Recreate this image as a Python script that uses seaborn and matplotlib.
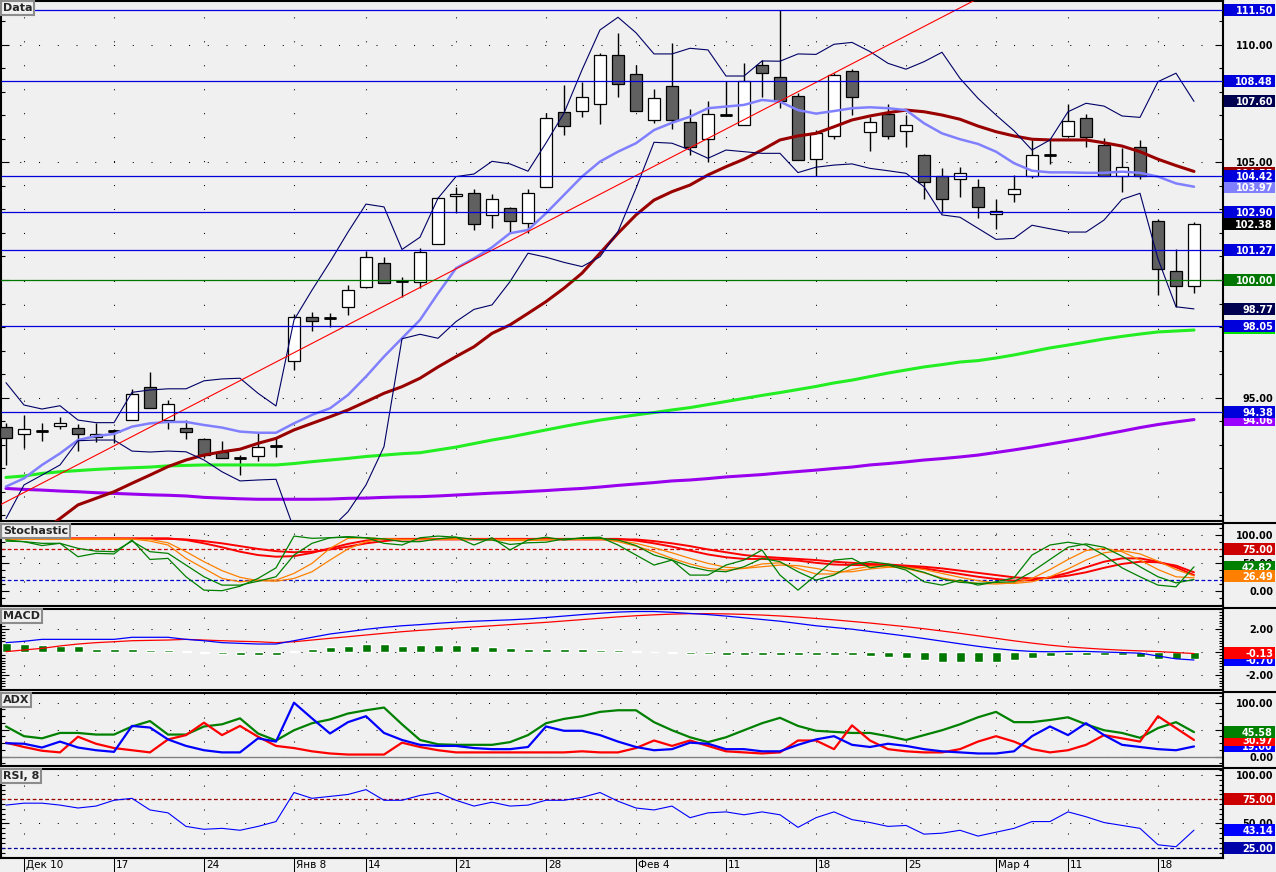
import matplotlib
matplotlib.use("Agg")
import matplotlib.pyplot as plt
from matplotlib.patches import Rectangle
from matplotlib.lines import Line2D
from matplotlib.transforms import IdentityTransform
import numpy as np
import seaborn as sns

# ---- values (bar index 0 .. 66) ----
tick_bars = [1, 6, 11, 16, 20, 25, 30, 35, 40, 45, 50, 55, 59, 64]
tick_labels = ["Дек 10", "17", "24", "Янв 8", "14", "21", "28",
               "Фев 4", "11", "18", "25", "Мар 4", "11", "18"]

opens = [93.76, 93.43, 93.59, 93.80, 93.69, 93.31, 93.59, 94.03, 95.43, 94.03,
         93.69, 93.22, 92.69, 92.44, 92.50, 92.95, 96.54, 98.41, 98.40, 98.85,
         99.71, 100.71, 99.97, 99.90, 101.52, 103.56, 103.69, 102.75, 103.05, 102.41,
         103.94, 107.16, 107.18, 107.48, 109.56, 108.75, 106.80, 108.24, 106.71, 105.99,
         107.00, 106.58, 109.14, 108.63, 107.82, 105.14, 106.11, 108.88, 106.29, 107.06,
         106.33, 105.31, 104.41, 104.29, 103.97, 102.80, 103.65, 104.43, 105.32, 106.11,
         106.88, 105.73, 104.41, 105.65, 102.50, 100.40, 99.74]
highs = [93.91, 94.26, 93.90, 94.16, 93.86, 93.93, 93.65, 95.36, 96.09, 94.89,
         94.04, 93.26, 93.15, 92.55, 93.55, 93.33, 98.55, 98.65, 98.58, 99.77,
         101.25, 100.99, 100.14, 101.35, 103.55, 103.97, 103.87, 103.66, 103.12, 103.87,
         107.09, 108.30, 108.44, 109.65, 110.50, 109.15, 108.11, 110.10, 107.28, 107.63,
         108.47, 109.25, 109.36, 111.48, 107.95, 106.38, 108.80, 108.97, 106.95, 107.48,
         107.02, 105.36, 104.75, 104.82, 104.29, 103.43, 104.47, 105.96, 105.96, 107.48,
         107.05, 106.03, 105.60, 105.96, 102.58, 101.33, 102.46]
lows = [92.13, 92.84, 93.16, 93.67, 92.74, 93.12, 93.05, 94.03, 94.54, 93.67,
        93.25, 92.41, 92.41, 91.69, 92.31, 92.48, 96.17, 97.84, 98.01, 98.51,
        99.65, 99.86, 99.29, 99.65, 101.52, 102.84, 102.13, 102.23, 101.99, 101.99,
        103.94, 106.18, 106.95, 106.64, 107.80, 107.18, 106.69, 106.41, 105.32, 105.01,
        106.98, 106.58, 107.80, 107.31, 105.09, 104.43, 105.99, 107.02, 105.50, 105.99,
        105.65, 103.46, 102.84, 103.55, 102.65, 102.18, 103.33, 104.33, 104.95, 106.11,
        105.65, 104.41, 103.76, 104.31, 99.35, 98.86, 99.46]
closes = [93.26, 93.65, 93.59, 93.90, 93.43, 93.46, 93.59, 95.14, 94.57, 94.71,
          93.55, 92.54, 92.41, 92.44, 92.88, 92.95, 98.41, 98.24, 98.40, 99.56,
          100.99, 99.86, 99.97, 101.18, 103.48, 103.66, 102.37, 103.43, 102.51, 103.69,
          106.88, 106.54, 107.77, 109.56, 108.33, 107.18, 107.73, 106.80, 105.65, 107.05,
          107.00, 108.47, 108.80, 107.60, 105.09, 106.24, 108.71, 107.80, 106.71, 106.11,
          106.58, 104.16, 103.43, 104.57, 103.09, 102.92, 103.89, 105.31, 105.32, 106.75,
          106.07, 104.41, 104.80, 104.41, 100.46, 99.74, 102.37]

bb_upper = [95.63, 94.68, 94.51, 94.65, 94.04, 93.93, 93.93, 95.22, 95.32, 95.37,
            95.37, 95.71, 95.79, 95.82, 95.18, 94.64, 98.30, 99.57, 100.77, 102.04,
            103.23, 103.11, 101.30, 101.82, 103.48, 104.40, 104.51, 105.05, 104.94, 104.63,
            105.83, 107.10, 108.94, 110.64, 111.18, 110.52, 109.62, 109.62, 109.86, 109.79,
            108.68, 108.68, 109.32, 109.31, 109.62, 109.60, 110.03, 110.11, 109.72, 109.22,
            108.97, 109.29, 109.69, 108.58, 107.73, 107.02, 106.35, 105.53, 105.96, 107.16,
            107.52, 107.40, 106.98, 106.92, 108.44, 108.80, 107.60]
bb_lower = [89.85, 91.28, 91.70, 92.13, 93.16, 93.19, 93.19, 92.72, 92.68, 92.72,
            92.69, 92.34, 91.84, 91.45, 91.49, 91.52, 89.40, 88.30, 89.40, 90.14,
            91.28, 92.91, 97.50, 97.69, 97.52, 98.23, 98.75, 98.94, 99.93, 101.14,
            100.97, 100.75, 100.57, 100.99, 102.06, 103.90, 105.86, 105.82, 105.53, 105.18,
            105.53, 105.46, 105.39, 105.39, 104.57, 104.80, 104.89, 104.94, 104.75, 104.65,
            104.54, 103.97, 102.77, 102.67, 102.20, 101.73, 101.77, 102.33, 102.18, 102.04,
            102.04, 102.55, 103.43, 103.69, 100.90, 98.86, 98.77]
ma_fast = [91.21, 91.56, 92.13, 92.62, 93.19, 93.36, 93.45, 93.76, 93.90, 93.96,
           93.96, 93.83, 93.72, 93.55, 93.50, 93.50, 93.90, 94.26, 94.54, 95.11,
           95.89, 96.74, 97.52, 98.30, 99.43, 100.50, 100.92, 101.39, 101.99, 102.13,
           102.84, 103.62, 104.40, 105.04, 105.46, 105.82, 106.38, 106.69, 106.95, 107.31,
           107.38, 107.45, 107.66, 107.59, 107.23, 107.08, 107.19, 107.31, 107.35, 107.31,
           107.23, 106.67, 106.24, 105.99, 105.79, 105.46, 104.97, 104.65, 104.58, 104.58,
           104.56, 104.56, 104.61, 104.56, 104.40, 104.11, 103.97]
ma_mid = [88.30, 88.80, 89.30, 89.85, 90.43, 90.71, 90.99, 91.35, 91.70, 92.06,
          92.34, 92.55, 92.69, 92.80, 93.05, 93.26, 93.62, 93.90, 94.18, 94.47,
          94.82, 95.18, 95.46, 95.82, 96.30, 96.74, 97.16, 97.73, 98.09, 98.58,
          99.08, 99.65, 100.29, 101.14, 101.99, 102.77, 103.40, 103.76, 104.04, 104.47,
          104.82, 105.14, 105.53, 105.96, 106.13, 106.24, 106.52, 106.81, 106.98, 107.12,
          107.23, 107.16, 107.02, 106.84, 106.55, 106.31, 106.13, 105.99, 105.96, 105.96,
          105.96, 105.84, 105.70, 105.46, 105.14, 104.87, 104.62]
ma_slow = [91.60, 91.66, 91.77, 91.84, 91.89, 91.94, 91.98, 92.01, 92.04, 92.09,
           92.11, 92.13, 92.13, 92.13, 92.13, 92.13, 92.19, 92.27, 92.34, 92.41,
           92.49, 92.55, 92.61, 92.65, 92.77, 92.89, 93.04, 93.19, 93.32, 93.47,
           93.62, 93.77, 93.91, 94.04, 94.15, 94.26, 94.36, 94.47, 94.57, 94.70,
           94.83, 94.96, 95.09, 95.21, 95.34, 95.47, 95.62, 95.74, 95.89, 96.04,
           96.17, 96.30, 96.40, 96.51, 96.57, 96.68, 96.81, 96.96, 97.11, 97.23,
           97.36, 97.49, 97.60, 97.70, 97.79, 97.83, 97.87]
ma_long = [91.13, 91.09, 91.06, 91.02, 90.99, 90.95, 90.92, 90.89, 90.86, 90.84,
           90.81, 90.75, 90.72, 90.69, 90.67, 90.67, 90.67, 90.67, 90.68, 90.71,
           90.72, 90.75, 90.77, 90.78, 90.81, 90.85, 90.89, 90.93, 90.96, 91.00,
           91.04, 91.09, 91.13, 91.19, 91.26, 91.32, 91.38, 91.45, 91.49, 91.55,
           91.62, 91.67, 91.72, 91.79, 91.85, 91.91, 91.98, 92.04, 92.13, 92.19,
           92.26, 92.34, 92.40, 92.47, 92.55, 92.66, 92.77, 92.89, 93.02, 93.15,
           93.28, 93.43, 93.57, 93.72, 93.85, 93.96, 94.06]

trend_bars = [-0.33, 53.83]
trend_prices = [90.43, 111.91]
level_prices = [111.50, 108.48, 104.42, 102.90, 101.27, 98.05, 94.38]
level_green = 100.00

stoch_k1 = [89, 88, 81, 85, 61, 67, 66, 91, 56, 58,
            25, 1, 0, 8, 22, 41, 98, 94, 95, 97,
            95, 85, 82, 95, 98, 96, 82, 95, 73, 91,
            96, 91, 95, 96, 82, 64, 46, 55, 28, 28,
            46, 55, 73, 28, 1, 28, 55, 58, 41, 46,
            37, 16, 10, 19, 10, 16, 23, 64, 82, 87,
            82, 64, 41, 25, 10, 7, 42.82]
stoch_k2 = [91, 88, 85, 85, 76, 71, 70, 89, 70, 67,
            46, 25, 10, 10, 17, 25, 64, 85, 95, 96,
            95, 93, 88, 88, 93, 96, 92, 91, 83, 86,
            87, 93, 94, 94, 91, 81, 64, 55, 43, 36,
            34, 43, 58, 52, 34, 19, 28, 47, 52, 48,
            41, 33, 21, 15, 13, 15, 16, 34, 56, 78,
            84, 78, 62, 43, 25, 14, 20]
stoch_d1 = [93, 93, 93, 93, 93, 93, 93, 93, 89, 82,
            58, 40, 22, 16, 19, 19, 31, 49, 76, 94,
            95, 93, 92, 92, 93, 93, 92, 92, 90, 90,
            91, 92, 93, 93, 88, 80, 70, 58, 48, 40,
            37, 40, 48, 50, 40, 30, 30, 38, 44, 44,
            40, 32, 23, 17, 13, 12, 14, 22, 38, 56,
            72, 76, 70, 55, 38, 25, 23]
stoch_d2 = [92, 92, 92, 92, 92, 92, 92, 92, 92, 86,
            70, 52, 36, 24, 18, 17, 22, 34, 55, 75,
            88, 93, 92, 92, 92, 92, 92, 92, 92, 92,
            92, 92, 92, 92, 90, 85, 77, 68, 58, 49,
            42, 40, 43, 46, 45, 40, 34, 34, 39, 42,
            42, 38, 31, 24, 18, 14, 13, 16, 25, 39,
            55, 68, 72, 66, 53, 38, 26.49]
stoch_s1 = [94, 94, 94, 94, 94, 94, 94, 94, 94, 94,
            91, 85, 78, 70, 64, 61, 62, 68, 76, 84,
            90, 93, 93, 93, 93, 93, 93, 93, 93, 93,
            93, 93, 93, 93, 93, 90, 85, 79, 72, 65,
            60, 57, 57, 56, 54, 50, 47, 46, 46, 45,
            43, 40, 35, 30, 25, 21, 18, 19, 24, 32,
            42, 52, 58, 58, 52, 42, 28]
stoch_s2 = [93, 93, 93, 93, 93, 93, 93, 93, 93, 93,
            92, 89, 85, 80, 75, 71, 69, 70, 74, 79,
            85, 89, 92, 92, 92, 92, 92, 92, 92, 92,
            92, 92, 92, 92, 92, 92, 89, 85, 80, 74,
            69, 64, 61, 59, 57, 55, 52, 50, 48, 47,
            45, 43, 40, 36, 32, 28, 24, 22, 23, 27,
            33, 41, 48, 52, 51, 45, 33]

macd_line = [0.82, 0.94, 1.11, 1.11, 1.11, 1.11, 1.11, 1.29, 1.29, 1.29,
             1.11, 0.99, 0.82, 0.76, 0.70, 0.70, 0.99, 1.29, 1.58, 1.78,
             1.99, 2.16, 2.30, 2.40, 2.52, 2.62, 2.70, 2.76, 2.82, 2.90,
             3.02, 3.15, 3.28, 3.40, 3.50, 3.55, 3.55, 3.48, 3.38, 3.28,
             3.15, 3.00, 2.85, 2.70, 2.50, 2.30, 2.15, 2.00, 1.80, 1.60,
             1.40, 1.18, 0.95, 0.72, 0.50, 0.30, 0.15, 0.05, 0.02, 0.05,
             0.05, 0.00, -0.05, -0.10, -0.35, -0.60, -0.70]
macd_signal = [0.03, 0.18, 0.32, 0.53, 0.70, 0.82, 0.90, 0.99, 1.02, 1.05,
               1.11, 1.05, 0.99, 0.94, 0.90, 0.82, 0.90, 1.05, 1.20, 1.34,
               1.49, 1.64, 1.78, 1.90, 2.00, 2.10, 2.20, 2.30, 2.40, 2.50,
               2.60, 2.72, 2.84, 2.96, 3.08, 3.18, 3.26, 3.32, 3.36, 3.36,
               3.34, 3.30, 3.24, 3.16, 3.06, 2.94, 2.82, 2.68, 2.54, 2.38,
               2.22, 2.04, 1.84, 1.64, 1.42, 1.20, 0.98, 0.78, 0.60, 0.45,
               0.34, 0.24, 0.16, 0.10, 0.04, -0.05, -0.13]
macd_hist = [0.79, 0.73, 0.64, 0.56, 0.50, 0.29, 0.29, 0.29, 0.20, 0.20,
             0.06, -0.09, -0.20, -0.23, -0.23, -0.23, 0.06, 0.29, 0.44, 0.50,
             0.67, 0.67, 0.55, 0.60, 0.65, 0.62, 0.55, 0.45, 0.35, 0.30,
             0.30, 0.28, 0.25, 0.20, 0.15, 0.05, 0.00, -0.05, -0.15, -0.20,
             -0.25, -0.25, -0.25, -0.30, -0.30, -0.30, -0.30, -0.30, -0.35, -0.40,
             -0.55, -0.70, -0.85, -0.90, -0.90, -0.85, -0.70, -0.50, -0.35, -0.25,
             -0.25, -0.25, -0.30, -0.45, -0.60, -0.65, -0.57]

adx_line = [56, 38, 34, 44, 44, 41, 41, 56, 66, 41,
            41, 56, 60, 71, 43, 30, 49, 62, 69, 80,
            86, 91, 60, 31, 23, 22, 22, 22, 27, 40,
            62, 70, 75, 83, 86, 86, 64, 49, 36, 27,
            36, 49, 62, 72, 57, 48, 46, 44, 44, 38,
            31, 40, 49, 60, 73, 83, 64, 64, 68, 73,
            60, 49, 44, 35, 53, 64, 45.58]
adx_minus = [25, 24, 17, 28, 17, 12, 9, 57, 54, 32,
             20, 12, 8, 8, 34, 28, 100, 71, 43, 64,
             75, 44, 31, 22, 20, 20, 16, 14, 14, 18,
             56, 48, 48, 40, 28, 18, 12, 14, 26, 24,
             14, 14, 10, 10, 22, 32, 38, 22, 18, 24,
             20, 14, 10, 8, 6, 6, 10, 38, 56, 40,
             62, 40, 22, 18, 14, 12, 19]
adx_plus = [26, 18, 11, 8, 37, 24, 16, 12, 8, 32,
            40, 63, 40, 57, 37, 20, 16, 10, 6, 4,
            4, 4, 26, 18, 12, 8, 8, 8, 8, 8,
            8, 8, 10, 8, 8, 16, 30, 20, 30, 20,
            10, 8, 6, 8, 30, 30, 14, 58, 30, 14,
            10, 8, 8, 14, 28, 38, 28, 14, 8, 12,
            22, 40, 34, 28, 75, 53, 30.97]

rsi = [69, 71, 71, 69, 66, 68, 74, 76, 64, 61,
       47, 44, 45, 43, 47, 52, 82, 76, 78, 80,
       85, 74, 74, 79, 82, 74, 68, 72, 68, 69,
       74, 74, 77, 82, 73, 66, 64, 68, 56, 61,
       62, 59, 62, 59, 46, 56, 62, 54, 51, 47,
       48, 39, 40, 43, 37, 41, 45, 52, 52, 62,
       57, 51, 48, 45, 28, 26, 43.14]

# right-hand value boxes: value, text, colour (drawn in this order)
main_boxes = [(107.60, "107.60", "#000050"), (104.55, "104.55", "#990000"),
              (103.97, "103.97", "#8080FF"), (102.38, "102.38", "#000000"),
              (98.77, "98.77", "#000050"), (97.96, "97.96", "#00E000"),
              (94.06, "94.06", "#9900FF"),
              (111.50, "111.50", "#0000DD"), (108.48, "108.48", "#0000DD"),
              (104.42, "104.42", "#0000DD"), (102.90, "102.90", "#0000DD"),
              (101.27, "101.27", "#0000DD"), (100.00, "100.00", "#007700"),
              (98.05, "98.05", "#0000DD"), (94.38, "94.38", "#0000DD")]
stoch_boxes = [(75.0, "75.00", "#CC0000"), (42.82, "42.82", "#008000"), (26.49, "26.49", "#FF8000")]
macd_boxes = [(-0.70, "-0.70", "#0000FF"), (-0.13, "-0.13", "#FF0000")]
adx_boxes = [(19.0, "19.00", "#0000FF"), (30.97, "30.97", "#FF0000"), (45.58, "45.58", "#008000")]
rsi_boxes = [(75.0, "75.00", "#CC0000"), (43.14, "43.14", "#0000FF"), (25.0, "25.00", "#0000AA")]

# ---- drawing ----
BG = "#F0F0F0"
sns.set_theme(style="white", rc={"axes.facecolor": BG, "figure.facecolor": BG,
                                 "savefig.facecolor": BG})
plt.rcParams["font.family"] = ["DejaVu Sans"]

W, H = 1276, 872
fig = plt.figure(figsize=(W / 100, H / 100), dpi=100)
bars = np.arange(len(closes))
XL, XR = -5 / 18, 1217 / 18
DOT_V = (0, (1, 22))
DOT_H = (0, (1, 17))


def panel(top, bottom, lo, hi, name):
    ax = fig.add_axes([1 / W, 1 - bottom / H, 1222 / W, (bottom - top) / H])
    ax.set_facecolor(BG)
    for sp in ax.spines.values():
        sp.set_color("black")
        sp.set_linewidth(1.5)
    ax.set_xlim(XL, XR)
    ax.set_ylim(lo, hi)
    ax.set_xticks([])
    ax.vlines(tick_bars, lo, hi, colors="black", linestyles=DOT_V, linewidth=0.75, zorder=1)
    ax.annotate(name, xy=(0, 1), xycoords="axes fraction", xytext=(1.5, -1.5),
                textcoords="offset points", ha="left", va="top", fontsize=8,
                fontweight="bold", zorder=30,
                bbox=dict(boxstyle="square,pad=0.15", fc=BG, ec="#8C8C8C", lw=1.5))
    return ax


def yticks(ax, major, labels, minor):
    ax.tick_params(axis="y", which="both", direction="in", left=True, right=True,
                   labelleft=False, labelright=True, pad=36, width=0.8, colors="black")
    ax.tick_params(axis="y", which="major", length=6)
    ax.tick_params(axis="y", which="minor", length=3)
    ax.set_yticks(minor, minor=True)
    ax.set_yticks(major, labels=labels, ha="right", fontsize=7, fontweight="bold")
    ax.hlines(major, XL, XR, colors="black", linestyles=DOT_H, linewidth=0.75, zorder=1)


zc = [10]


def boxes(ax, items):
    for value, text, face in items:
        yd = ax.transData.transform((0, value))[1]
        z = zc[0]
        zc[0] += 2
        fig.add_artist(Rectangle((1224, yd - 6), 51, 12, transform=IdentityTransform(),
                                 facecolor=face, edgecolor="none", zorder=z))
        fig.text(1273, yd, text, transform=IdentityTransform(), ha="right",
                 va="center_baseline", color="white", fontsize=7, fontweight="bold",
                 zorder=z + 1)


def line(ax, values, color, lw, z=4):
    sns.lineplot(x=bars, y=values, ax=ax, color=color, linewidth=lw,
                 errorbar=None, zorder=z)


# main price panel
ax = panel(1, 521, 89.745, 111.872, "Data")
yticks(ax, [95, 100, 105, 110], ["95.00", "100.00", "105.00", "110.00"], np.arange(90, 112, 1))

o = np.array(opens)
c = np.array(closes)
up = c >= o
bottom = np.minimum(o, c)
height = np.abs(c - o)
ax.vlines(bars, lows, highs, color="black", linewidth=1.0, zorder=2)
ax.bar(bars[up], height[up], bottom=bottom[up], width=0.67, color="white",
       edgecolor="black", linewidth=0.9, zorder=3)
ax.bar(bars[~up], height[~up], bottom=bottom[~up], width=0.67, color="#606060",
       edgecolor="black", linewidth=0.9, zorder=3)
doji = height < 0.02
ax.hlines(c[doji], bars[doji] - 0.33, bars[doji] + 0.33, color="black", linewidth=2, zorder=3)

line(ax, ma_long, "#9900EE", 2.2)
line(ax, ma_slow, "#22EE22", 2.2)
line(ax, ma_mid, "#990000", 2.2)
line(ax, ma_fast, "#8080FF", 1.8)
line(ax, bb_upper, "#000066", 0.8)
line(ax, bb_lower, "#000066", 0.8)
ax.plot(trend_bars, trend_prices, color="#FF0000", linewidth=0.8, zorder=4)
ax.hlines(level_prices, XL, XR, colors="#0000DD", linewidth=0.9, zorder=4)
ax.axhline(level_green, color="#007700", linewidth=0.9, zorder=4)

# stochastic
ax_st = panel(524, 606, -27.47, 119.69, "Stochastic")
yticks(ax_st, [0, 50, 100], ["0.00", "50.00", "100.00"], np.arange(-25, 120, 12.5))
ax_st.axhline(75, color="#CC0000", linestyle=(0, (3, 2)), linewidth=0.9)
ax_st.axhline(20, color="#0000CC", linestyle=(0, (3, 2)), linewidth=0.9)
line(ax_st, stoch_s2, "#FF0000", 1.4)
line(ax_st, stoch_s1, "#FF0000", 1.4)
line(ax_st, stoch_d2, "#FF8000", 0.9)
line(ax_st, stoch_d1, "#FF8000", 0.9)
line(ax_st, stoch_k2, "#008000", 0.9)
line(ax_st, stoch_k1, "#008000", 0.9)

# MACD
ax_m = panel(609, 690, -3.33, 3.77, "MACD")
yticks(ax_m, [-2, 0, 2], ["-2.00", "0.00", "2.00"], np.arange(-3.25, 3.8, 0.25))
ax_m.bar(bars, macd_hist, width=0.5, color="#007700", zorder=2)
line(ax_m, macd_signal, "#FF0000", 0.9)
line(ax_m, macd_line, "#0000FF", 0.9)

# ADX
ax_a = panel(693, 766, -17.2, 117.96, "ADX")
yticks(ax_a, [0, 50, 100], ["0.00", "50.00", "100.00"], np.arange(-12.5, 118, 12.5))
ax_a.axhline(0, color="#808080", linewidth=1.0, zorder=2)
line(ax_a, adx_line, "#008000", 1.6)
line(ax_a, adx_plus, "#FF0000", 1.6)
line(ax_a, adx_minus, "#0000FF", 1.6)

# RSI
ax_r = panel(769, 858, 14.36, 106.3, "RSI, 8")
yticks(ax_r, [50, 100], ["50.00", "100.00"], np.arange(15, 106, 5))
ax_r.axhline(75, color="#990000", linestyle=(0, (3, 2)), linewidth=0.9)
ax_r.axhline(25, color="#000099", linestyle=(0, (3, 2)), linewidth=0.9)
line(ax_r, rsi, "#0000FF", 0.8)
ax_r.set_xticks(tick_bars)
ax_r.tick_params(axis="x", which="major", direction="out", bottom=True, length=10,
                 width=0.75, colors="black", labelbottom=False)
for b, lab in zip(tick_bars, tick_labels):
    ax_r.annotate(lab, xy=(b, 0), xycoords=("data", "axes fraction"), xytext=(1.5, -5.2),
                  textcoords="offset points", ha="left", va="center", fontsize=7.5,
                  color="black", annotation_clip=False)

for a in (ax, ax_st, ax_m, ax_a, ax_r):
    a.set_xlabel("")
    a.set_ylabel("")
    a.set_xlim(XL, XR)

# separators across the value-label strip
for ypix in (522.5, 607.5, 691.5, 767.5):
    fig.add_artist(Line2D([1223, W], [H - ypix, H - ypix], transform=IdentityTransform(),
                          color="black", linewidth=1.5, zorder=5))

boxes(ax, main_boxes)
boxes(ax_st, stoch_boxes)
boxes(ax_m, macd_boxes)
boxes(ax_a, adx_boxes)
boxes(ax_r, rsi_boxes)

fig.savefig("out.png", dpi=100, facecolor=BG)
